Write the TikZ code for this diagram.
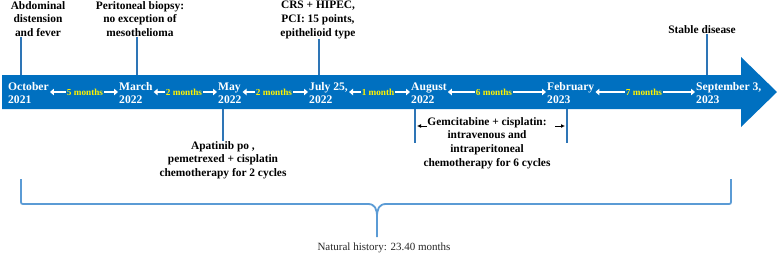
\documentclass[tikz,border=0pt]{standalone}
\usepackage{fontspec}
\setmainfont{Liberation Serif}
\usepackage{xcolor}
\definecolor{tlblue}{HTML}{0070C0}
\definecolor{tickblue}{HTML}{2E75B6}
\definecolor{braceblue}{HTML}{5B9BD5}
\usetikzlibrary{arrows.meta,positioning,calc}

\begin{document}
\begin{tikzpicture}[x=1pt,y=-1pt,
  datelbl/.style={anchor=west,align=left,text=white,inner sep=1pt,
    font=\fontsize{11.6}{13}\selectfont\bfseries},
  monthlbl/.style={text=yellow,inner sep=1pt,
    font=\fontsize{9.2}{10}\selectfont\bfseries},
  monthline/.style={white,line width=2.2pt,-{Triangle[length=4pt,width=6.5pt]}},
  eventlbl/.style={align=center,inner sep=0pt,
    font=\fontsize{11.4}{13.8}\selectfont\bfseries},
  tickline/.style={tickblue,line width=1.8pt},
  gemarrow/.style={black,line width=0.9pt,-{Latex[length=4pt,width=4pt]}}]
  \useasboundingbox (0,0) rectangle (777,255);
  % Timeline arrow
  \fill[tlblue] (2,75) -- (741,75) -- (741,57) -- (777,92)
    -- (741,127) -- (741,109) -- (2,109) -- cycle;
  % Dates
  \node[datelbl] (oct) at (7,93) {October\\2021};
  \node[datelbl] (mar) at (118,93) {March\\2022};
  \node[datelbl] (may) at (217,93) {May\\2022};
  \node[datelbl] (jul) at (308,93) {July 25,\\2022};
  \node[datelbl] (aug) at (410,93) {August\\2022};
  \node[datelbl] (feb) at (546,93) {February\\2023};
  \node[datelbl] (sep) at (695,93) {September 3,\\2023};
  % Intervals
  \node[monthlbl] (m1) at (85,92) {5 months};
  \node[monthlbl] (m2) at (184,92) {2 months};
  \node[monthlbl] (m3) at (274,92) {2 months};
  \node[monthlbl] (m4) at (378,92) {1 month};
  \node[monthlbl] (m5) at (494,92) {6 months};
  \node[monthlbl] (m6) at (644,92) {7 months};
  \draw[monthline] (m1.west) -- (m1.west -| oct.east);
  \draw[monthline] (m1.east) -- (m1.east -| mar.west);
  \draw[monthline] (m2.west) -- (m2.west -| mar.east);
  \draw[monthline] (m2.east) -- (m2.east -| may.west);
  \draw[monthline] (m3.west) -- (m3.west -| may.east);
  \draw[monthline] (m3.east) -- (m3.east -| jul.west);
  \draw[monthline] (m4.west) -- (m4.west -| jul.east);
  \draw[monthline] (m4.east) -- (m4.east -| aug.west);
  \draw[monthline] (m5.west) -- (m5.west -| aug.east);
  \draw[monthline] (m5.east) -- (m5.east -| feb.west);
  \draw[monthline] (m6.west) -- (m6.west -| feb.east);
  \draw[monthline] (m6.east) -- (m6.east -| sep.west);
  % Events above
  \node[eventlbl,anchor=north] (abd) at (38,1) {Abdominal\\distension\\and fever};
  \node[eventlbl,anchor=north] (bio) at (140,1) {Peritoneal biopsy:\\no exception of\\mesothelioma};
  \node[eventlbl,anchor=north] (crs) at (318,1) {CRS + HIPEC,\\PCI: 15 points,\\epithelioid type};
  \node[eventlbl] (sta) at (702,30) {Stable disease};
  % Events below
  \node[eventlbl,anchor=north] (apa) at (223,141) {Apatinib po ,\\pemetrexed + cisplatin\\chemotherapy for 2 cycles};
  \node[eventlbl,anchor=north] (gem) at (487,117) {Gemcitabine + cisplatin:\\intravenous and\\intraperitoneal\\chemotherapy for 6 cycles};
  % Ticks
  \coordinate (octb) at (21,75);
  \coordinate (marb) at (137,75);
  \coordinate (julb) at (319,75);
  \coordinate (sepb) at (707,75);
  \coordinate (mayb) at (223,109);
  \coordinate (augb) at (415,109);
  \coordinate (febb) at (567,109);
  \draw[tickline] (octb) -- (octb |- abd.south);
  \draw[tickline] (marb) -- (marb |- bio.south);
  \draw[tickline] (julb) -- (julb |- crs.south);
  \draw[tickline] (sepb) -- (sepb |- sta.south);
  \draw[tickline] (mayb) -- (mayb |- apa.north);
  \draw[tickline] (augb) -- ++(0,34) coordinate (augt);
  \draw[tickline] (febb) -- ++(0,34) coordinate (febt);
  \coordinate (augarr) at (417,126);
  \coordinate (febarr) at (565,126);
  \draw[gemarrow] ([xshift=10pt]augarr) -- (augarr);
  \draw[gemarrow] ([xshift=-10pt]febarr) -- (febarr);
  % Brace
  \draw[braceblue,line width=1.8pt] (21,179) -- (21,200) .. controls (21,204) .. (25,204)
    -- (368,204) .. controls (375,204) and (377,209) .. (377,217) -- (377,237);
  \draw[braceblue,line width=1.8pt] (731,179) -- (731,200) .. controls (731,204) .. (727,204)
    -- (386,204) .. controls (379,204) and (377,209) .. (377,217);
  \node[font=\fontsize{11}{12}\selectfont,text=black!85] (nat) at (384,248) {Natural history: 23.40 months};
\end{tikzpicture}
\end{document}
